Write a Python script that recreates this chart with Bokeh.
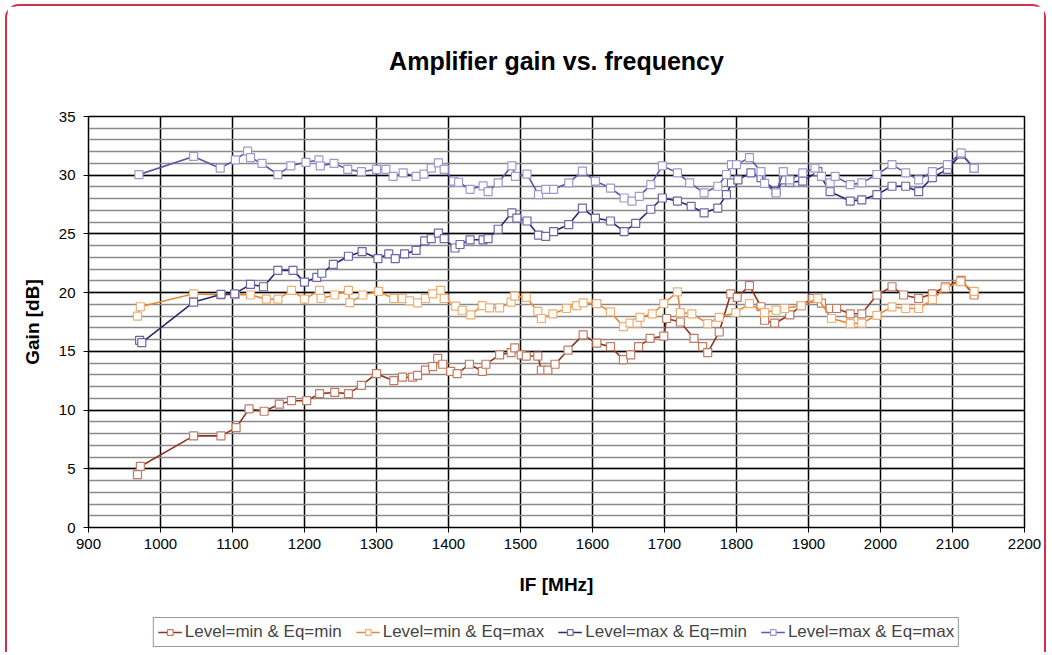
from bokeh.plotting import figure
from bokeh.layouts import column
from bokeh.models import Legend, LegendItem, FixedTicker
from bokeh.embed import file_html
from bokeh.resources import INLINE

# ---- data ----
f_minmin = [968, 972, 1046, 1084, 1105, 1123, 1144, 1165, 1182, 1203, 1221, 1242, 1261, 1279, 1300,
            1324, 1336, 1350, 1357, 1368, 1378, 1385, 1392, 1403, 1412, 1429, 1447, 1452, 1471, 1487,
            1492, 1501, 1508, 1524, 1529, 1538, 1548, 1566, 1587, 1606, 1625, 1643, 1653, 1664, 1680,
            1699, 1703, 1722, 1741, 1753, 1760, 1776, 1792, 1801, 1818, 1834, 1839, 1853, 1874, 1890,
            1906, 1918, 1930, 1939, 1958, 1974, 1995, 2016, 2032, 2053, 2072, 2090, 2112, 2130]
g_minmin = [4.5, 5.2, 7.8, 7.8, 8.5, 10.1, 9.9, 10.5, 10.8, 10.8, 11.4, 11.5, 11.4, 12.1, 13.1,
            12.5, 12.8, 12.8, 12.95, 13.4, 13.7, 14.4, 13.9, 13.3, 13.1, 13.9, 13.3, 13.9, 14.7, 14.9,
            15.3, 14.7, 14.6, 14.6, 13.4, 13.4, 13.9, 15.1, 16.4, 15.7, 15.4, 14.3, 14.7, 15.4, 16.1,
            16.3, 17.8, 17.5, 16.1, 15.4, 14.9, 16.65, 19.9, 19.6, 20.6, 18.8, 17.65, 17.4, 18.1, 18.9,
            19.5, 19.1, 18.65, 18.65, 18.2, 18.2, 19.8, 20.5, 19.8, 19.5, 19.9, 20.5, 21.05, 19.8]

f_minmax = [968, 972, 1046, 1084, 1104, 1125, 1147, 1163, 1182, 1200, 1221, 1223, 1242, 1261, 1263,
            1281, 1303, 1324, 1336, 1346, 1357, 1368, 1378, 1389, 1394, 1410, 1419, 1431, 1447, 1457,
            1471, 1487, 1492, 1508, 1524, 1529, 1545, 1564, 1578, 1587, 1606, 1625, 1643, 1652, 1662,
            1666, 1683, 1699, 1718, 1722, 1738, 1760, 1776, 1799, 1818, 1839, 1855, 1867, 1890, 1913,
            1932, 1958, 1974, 1995, 2016, 2035, 2053, 2072, 2090, 2111, 2130]
g_minmax = [18.0, 18.8, 19.9, 19.8, 19.85, 19.8, 19.45, 19.45, 20.2, 19.45, 20.2, 19.5, 19.8, 20.2, 19.15,
            19.8, 20.1, 19.5, 19.5, 19.3, 19.13, 19.5, 19.9, 20.2, 19.5, 18.85, 18.5, 18.1, 18.9, 18.7,
            18.7, 19.2, 19.7, 19.6, 18.4, 17.8, 18.2, 18.65, 18.9, 19.13, 19.07, 18.36, 17.1, 17.4, 17.4,
            17.9, 18.2, 19.07, 20.07, 18.3, 18.2, 17.36, 17.9, 18.3, 19.07, 18.3, 18.5, 18.65, 18.9, 19.5,
            17.8, 17.36, 17.4, 18.07, 18.79, 18.65, 18.65, 19.4, 20.4, 20.93, 20.1]

f_maxmin = [971, 974, 1046, 1084, 1103, 1125, 1143, 1163, 1184, 1200, 1217, 1224, 1240, 1261, 1280,
            1302, 1317, 1326, 1339, 1355, 1367, 1376, 1386, 1394, 1409, 1416, 1430, 1448, 1455, 1469,
            1488, 1495, 1509, 1525, 1535, 1546, 1567, 1586, 1604, 1625, 1644, 1660, 1681, 1697, 1718,
            1737, 1755, 1774, 1786, 1793, 1802, 1820, 1834, 1855, 1865, 1874, 1892, 1913, 1930, 1958,
            1974, 1995, 2016, 2035, 2053, 2072, 2093, 2112, 2130]
g_maxmin = [15.94, 15.74, 19.2, 19.85, 19.9, 20.7, 20.5, 21.9, 21.9, 20.9, 21.3, 21.65, 22.4, 23.1, 23.5,
            22.9, 23.3, 22.9, 23.3, 23.6, 24.4, 24.6, 25.07, 24.6, 23.8, 24.1, 24.5, 24.5, 24.6, 25.4,
            26.8, 26.35, 26.1, 24.9, 24.8, 25.2, 25.8, 27.2, 26.35, 26.1, 25.2, 25.9, 27.1, 28.06, 27.8,
            27.35, 26.8, 27.2, 28.35, 29.35, 29.6, 30.2, 29.8, 28.6, 29.6, 29.4, 29.5, 30.3, 28.6, 27.8,
            27.9, 28.35, 29.06, 29.06, 28.6, 29.8, 30.5, 31.8, 30.6]

f_maxmax = [970, 1046, 1083, 1104, 1121, 1125, 1141, 1163, 1181, 1202, 1220, 1222, 1241, 1260, 1279,
            1300, 1313, 1323, 1337, 1355, 1366, 1376, 1386, 1394, 1407, 1414, 1430, 1448, 1455, 1469,
            1488, 1493, 1509, 1525, 1535, 1546, 1567, 1586, 1604, 1625, 1644, 1655, 1665, 1681, 1697,
            1718, 1735, 1755, 1774, 1786, 1793, 1800, 1818, 1834, 1839, 1855, 1865, 1874, 1892, 1909,
            1918, 1930, 1937, 1958, 1974, 1995, 2016, 2035, 2053, 2072, 2093, 2112, 2130]
g_maxmax = [30.05, 31.6, 30.6, 31.3, 32.05, 31.5, 31.0, 30.05, 30.8, 31.1, 31.3, 30.8, 31.0, 30.5, 30.3,
            30.5, 30.5, 29.9, 30.2, 29.9, 30.1, 30.6, 31.05, 30.5, 29.5, 29.4, 28.8, 29.1, 28.6, 29.35,
            30.8, 29.9, 30.1, 28.35, 28.8, 28.8, 29.35, 30.35, 29.5, 28.9, 28.06, 27.8, 28.2, 29.2, 30.8,
            30.2, 29.35, 28.5, 29.06, 30.06, 30.9, 30.9, 31.5, 30.3, 29.3, 28.5, 30.3, 29.6, 30.2, 30.6,
            29.9, 29.35, 29.9, 29.2, 29.35, 30.06, 30.9, 30.2, 29.6, 30.3, 30.9, 31.9, 30.6]

labels = ["Level=min & Eq=min", "Level=min & Eq=max", "Level=max & Eq=min", "Level=max & Eq=max"]
line_colors = ["#8E3520", "#E8893A", "#2B2870", "#5C58A6"]
marker_colors = ["#C27A62", "#F0AE72", "#6A67A8", "#9C99D2"]
series = [(f_minmin, g_minmin), (f_minmax, g_minmax), (f_maxmin, g_maxmin), (f_maxmax, g_maxmax)]

x_ticks = list(range(900, 2201, 100))
y_ticks = list(range(0, 36, 5))

FONT = "Liberation Sans"
RED = "2px solid #D2304E"

# ---------------- main chart ----------------
p = figure(frame_width=932, frame_height=409, x_range=(900, 2200), y_range=(0, 35),
           output_backend="svg", toolbar_location=None,
           min_border_left=81, min_border_right=24, min_border_top=108, min_border_bottom=82)
p.margin = (4, 0, 0, 5)
p.styles = {"border-top": RED, "border-left": RED, "border-right": RED,
            "border-radius": "14px 14px 0 0"}

p.title.text = "Amplifier gain vs. frequency"
p.title.align = "center"
p.title.vertical_align = "top"
p.title.text_font = FONT
p.title.text_font_size = "25px"
p.title.text_font_style = "bold"
p.title.text_color = "black"
p.title.standoff = 80

p.outline_line_color = "black"
p.outline_line_width = 1.5

p.xaxis.ticker = FixedTicker(ticks=x_ticks)
p.yaxis.ticker = FixedTicker(ticks=y_ticks, minor_ticks=list(range(0, 36)))
for ax in (p.xaxis[0], p.yaxis[0]):
    ax.major_label_text_font = FONT
    ax.major_label_text_font_size = "15px"
    ax.major_label_text_color = "black"
    ax.axis_label_text_font = FONT
    ax.axis_label_text_font_size = "19px"
    ax.axis_label_text_font_style = "bold"
    ax.axis_label_text_color = "black"
    ax.axis_line_color = "black"
    ax.major_tick_line_color = "black"
    ax.major_tick_out = 5
    ax.major_tick_in = 0
    ax.minor_tick_line_color = None
p.xaxis.axis_label = "IF [MHz]"
p.yaxis.axis_label = "Gain [dB]"
p.xaxis.major_label_standoff = 6
p.xaxis.axis_label_standoff = 22
p.yaxis.major_label_standoff = 8
p.yaxis.axis_label_standoff = 13

p.xgrid.grid_line_color = "black"
p.xgrid.grid_line_width = 1.5
p.ygrid.grid_line_color = "black"
p.ygrid.grid_line_width = 1.5
p.ygrid.minor_grid_line_color = "#8a8a8a"
p.ygrid.minor_grid_line_width = 1.5

for (fx, gy), lc, mc in zip(series, line_colors, marker_colors):
    p.line(fx, gy, line_color=lc, line_width=1.6)
    p.scatter(fx, gy, marker="square", size=8, fill_color="white",
              line_color=mc, line_width=1.2)

# ---------------- legend strip (same frame width, below the chart) ----------------
# The strip's ranges lie far outside the data, so its copies of the series stay hidden;
# they only feed the legend samples.
p2 = figure(frame_width=932, frame_height=45, x_range=(0, 1), y_range=(0, 1),
            output_backend="svg", toolbar_location=None,
            x_axis_location=None, y_axis_location=None,
            min_border_left=81, min_border_right=24, min_border_top=0, min_border_bottom=0)
p2.margin = (0, 0, 0, 5)
p2.styles = {"border-left": RED, "border-right": RED}
p2.grid.visible = False
p2.outline_line_color = None

items = []
for (fx, gy), lab, lc, mc in zip(series, labels, line_colors, marker_colors):
    r_line = p2.line(fx, gy, line_color=lc, line_width=1.6)
    r_mark = p2.scatter(fx, gy, marker="square", size=8, fill_color="white",
                        line_color=mc, line_width=1.2)
    items.append(LegendItem(label=lab, renderers=[r_line, r_mark]))

legend = Legend(items=items, orientation="horizontal", location="top_center",
                label_text_font=FONT, label_text_font_size="17px",
                border_line_color="#333333", border_line_width=1,
                glyph_width=24, glyph_height=14, label_standoff=3, spacing=14,
                padding=4, margin=10, background_fill_color="white")
p2.add_layout(legend)

layout = column(p, p2, spacing=0)
open("out.html", "w").write(file_html(layout, INLINE))
